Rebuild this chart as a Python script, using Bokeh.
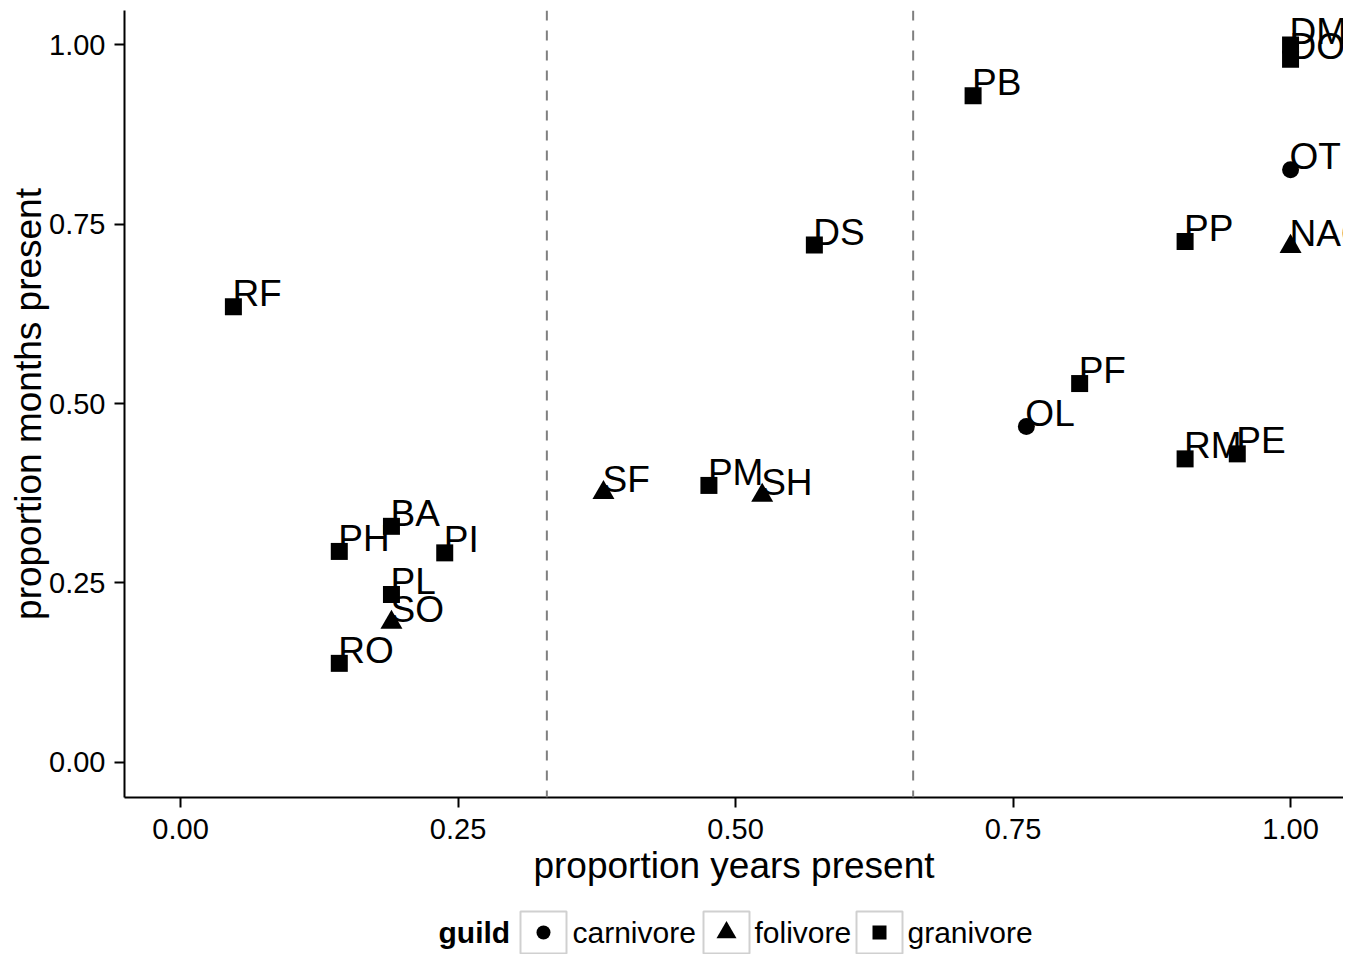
from bokeh.plotting import figure
from bokeh.models import ColumnDataSource, FixedTicker, Span, Range1d
from bokeh.layouts import column
from bokeh.embed import file_html
from bokeh.resources import INLINE
from bokeh.core.properties import value
from bokeh.transform import factor_mark

# ---------------- data ----------------
species = ["RF", "PH", "BA", "PI", "PL", "SO", "RO", "SF", "PM", "SH", "DS",
           "PB", "OL", "PF", "RM", "PE", "PP", "NAO", "OT", "DM", "DO"]
prop_years = [0.0476, 0.143, 0.190, 0.238, 0.190, 0.190, 0.143, 0.381, 0.476, 0.524, 0.571,
              0.714, 0.762, 0.810, 0.905, 0.952, 0.905, 1.000, 1.000, 1.000, 1.000]
prop_months = [0.635, 0.294, 0.329, 0.292, 0.234, 0.195, 0.138, 0.376, 0.386, 0.372, 0.721,
               0.929, 0.468, 0.528, 0.423, 0.430, 0.726, 0.719, 0.826, 1.000, 0.980]
guild = ["granivore", "granivore", "granivore", "granivore", "granivore", "folivore", "granivore",
         "folivore", "granivore", "folivore", "granivore", "granivore", "carnivore", "granivore",
         "granivore", "granivore", "granivore", "folivore", "carnivore", "granivore", "granivore"]

guild_levels = ["carnivore", "folivore", "granivore"]
guild_markers = ["circle", "triangle", "square"]
guild_sizes = {"carnivore": 17, "folivore": 22, "granivore": 17}

cutoffs = [0.33, 0.66]
tick_values = [0.0, 0.25, 0.5, 0.75, 1.0]
tick_labels = ["0.00", "0.25", "0.50", "0.75", "1.00"]

FONT = "Liberation Sans"

src = ColumnDataSource(dict(
    x=prop_years, y=prop_months, species=species, guild=guild,
    size=[guild_sizes[g] for g in guild],
))

# ---------------- main plot ----------------
W = 1343
FRAME_L, FRAME_R = 124, 1343   # frame edges in canvas pixels
p = figure(width=W, height=898, x_range=Range1d(-0.0505, 1.0477), y_range=Range1d(-0.049, 1.048),
           output_backend="svg", toolbar_location=None,
           min_border_left=FRAME_L, min_border_right=W - FRAME_R,
           min_border_top=10, min_border_bottom=101)
p.grid.visible = False
p.outline_line_color = None

for c in cutoffs:
    p.add_layout(Span(location=c, dimension="height", line_color="#7f7f7f",
                      line_dash="10 10", line_width=2))

p.scatter(x="x", y="y", source=src, size="size",
          marker=factor_mark("guild", guild_markers, guild_levels),
          fill_color="black", line_color="black", line_width=0)

p.text(x="x", y="y", text="species", source=src, text_font=value(FONT),
       text_font_size="37px", text_align="left", text_baseline="middle",
       text_color="black", x_offset=-1, y_offset=-13)

for ax in (p.xaxis[0], p.yaxis[0]):
    ax.ticker = FixedTicker(ticks=tick_values)
    ax.major_label_overrides = dict(zip(tick_values, tick_labels))
    ax.axis_line_color = "black"
    ax.axis_line_width = 2
    ax.major_tick_line_color = "black"
    ax.major_tick_line_width = 2
    ax.major_tick_out = 10
    ax.major_tick_in = 0
    ax.minor_tick_out = 0
    ax.minor_tick_in = 0
    ax.major_label_text_font = FONT
    ax.major_label_text_font_size = "29px"
    ax.major_label_text_color = "black"
    ax.axis_label_text_font = FONT
    ax.axis_label_text_font_size = "37px"
    ax.axis_label_text_font_style = "normal"
    ax.axis_label_text_color = "black"

p.xaxis.axis_label = "proportion years present"
p.yaxis.axis_label = "proportion months present"
p.xaxis.major_label_standoff = 11
p.yaxis.major_label_standoff = 9
p.xaxis.axis_label_standoff = 3
p.yaxis.axis_label_standoff = -3

# ---------------- legend (ggplot-style, bottom) ----------------
# the legend panel's frame is aligned with the plot frame, so use canvas-pixel units
LH = 56
lg = figure(width=W, height=LH, x_range=Range1d(FRAME_L, FRAME_R), y_range=Range1d(0, LH),
            output_backend="svg", toolbar_location=None,
            x_axis_location=None, y_axis_location=None,
            min_border_left=FRAME_L, min_border_right=W - FRAME_R,
            min_border_top=0, min_border_bottom=0)
lg.grid.visible = False
lg.outline_line_color = None

key_x = [543, 726, 879]
key_y = [22, 22, 22]
lab_x = [572, 754, 907]

lg.text(x=[438], y=[22], text=["guild"], text_font=value(FONT), text_font_size="30px",
        text_font_style="bold", text_color="black", text_baseline="middle")
lg.rect(x=key_x, y=key_y, width=46, height=42, fill_color="white",
        line_color="#d0d0d0", line_width=2)
lg.scatter(x=key_x, y=key_y, marker=guild_markers, size=[14, 20, 14],
           fill_color="black", line_color="black", line_width=0)
lg.text(x=lab_x, y=key_y, text=guild_levels, text_font=value(FONT),
        text_font_size="30px", text_color="black", text_baseline="middle")

layout = column(p, lg, spacing=0)
open("out.html", "w").write(file_html(layout, INLINE))
